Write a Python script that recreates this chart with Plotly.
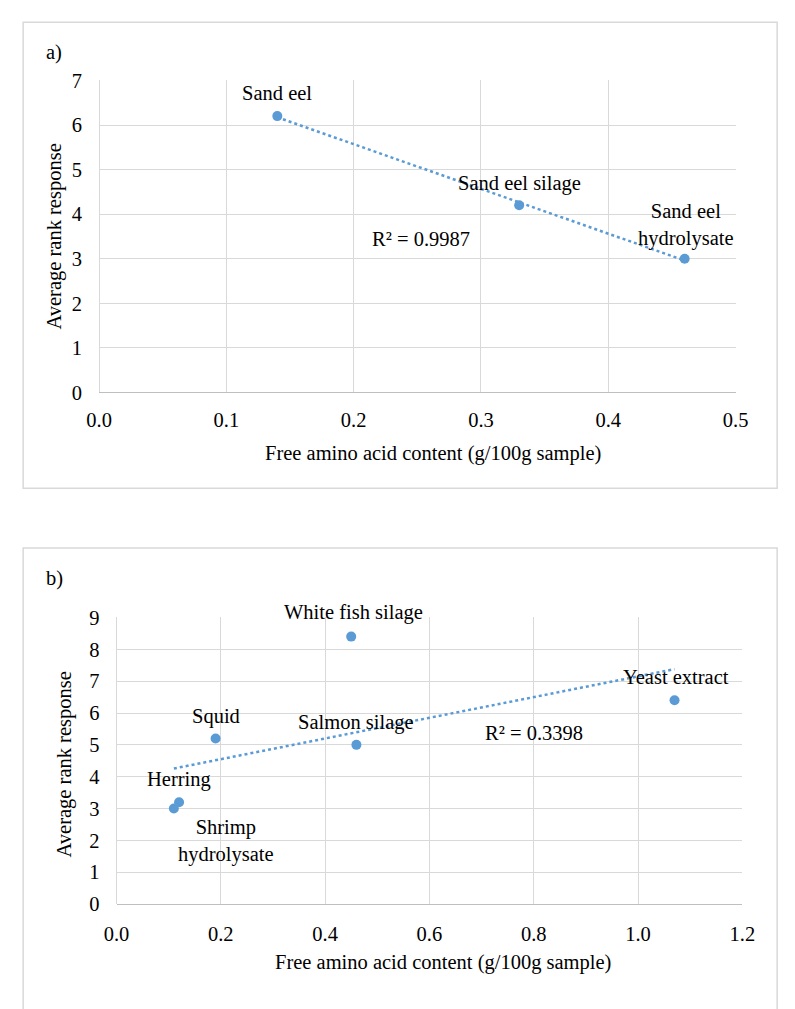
import numpy as np
import plotly.graph_objects as go

# ---- data: panel a ----
a_names = ["Sand eel", "Sand eel silage", "Sand eel<br>hydrolysate"]
a_x = [0.14, 0.33, 0.46]
a_y = [6.2, 4.2, 3.0]
a_r2 = "R² = 0.9987"
a_xticks = [0.0, 0.1, 0.2, 0.3, 0.4, 0.5]
a_yticks = [0, 1, 2, 3, 4, 5, 6, 7]

# ---- data: panel b ----
b_names = ["White fish silage", "Squid", "Salmon silage", "Yeast extract", "Herring", "Shrimp<br>hydrolysate"]
b_x = [0.45, 0.19, 0.46, 1.07, 0.12, 0.11]
b_y = [8.4, 5.2, 5.0, 6.4, 3.2, 3.0]
b_r2 = "R² = 0.3398"
b_xticks = [0.0, 0.2, 0.4, 0.6, 0.8, 1.0, 1.2]
b_yticks = [0, 1, 2, 3, 4, 5, 6, 7, 8, 9]

x_title = "Free amino acid content (g/100g sample)"
y_title = "Average rank response"

# label offsets (pixels) – styling
a_shift = [(0, 23), (0, 22), (1, 34)]
b_shift = [(2, 24), (0, 22), (0, 22), (1, 23), (0, 23), (52, -32)]

W, H = 795, 1009
FONT = "Liberation Serif, Times New Roman, serif"
BLUE = "#5b9bd5"
GRID = "#d9d9d9"
FS = 20.5


def px(x):
    return x / W


def py(y):
    return 1 - y / H


def trend(xs, ys):
    k, b = np.polyfit(xs, ys, 1)
    xx = np.array([min(xs), max(xs)])
    return xx, k * xx + b


fig = go.Figure()

ta_x, ta_y = trend(a_x, a_y)
tb_x, tb_y = trend(b_x, b_y)

fig.add_trace(go.Scatter(x=ta_x, y=ta_y, mode="lines", xaxis="x", yaxis="y",
                         line=dict(color=BLUE, width=2.5, dash="dot"), showlegend=False))
fig.add_trace(go.Scatter(x=a_x, y=a_y, mode="markers", xaxis="x", yaxis="y",
                         marker=dict(color=BLUE, size=10), showlegend=False))
fig.add_trace(go.Scatter(x=tb_x, y=tb_y, mode="lines", xaxis="x2", yaxis="y2",
                         line=dict(color=BLUE, width=2.5, dash="dot"), showlegend=False))
fig.add_trace(go.Scatter(x=b_x, y=b_y, mode="markers", xaxis="x2", yaxis="y2",
                         marker=dict(color=BLUE, size=10), showlegend=False))

annotations = []
for n, x, y, (dx, dy) in zip(a_names, a_x, a_y, a_shift):
    annotations.append(dict(x=x, y=y, xref="x", yref="y", text=n, showarrow=False,
                            xshift=dx, yshift=dy, font=dict(size=FS, color="#000", family=FONT)))
for n, x, y, (dx, dy) in zip(b_names, b_x, b_y, b_shift):
    annotations.append(dict(x=x, y=y, xref="x2", yref="y2", text=n, showarrow=False,
                            xshift=dx, yshift=dy, font=dict(size=FS, color="#000", family=FONT)))

def paper_text(text, x, y, angle=0, size=FS):
    annotations.append(dict(x=px(x), y=py(y), xref="paper", yref="paper", text=text,
                            showarrow=False, textangle=angle, xanchor="center", yanchor="middle",
                            font=dict(size=size, color="#000", family=FONT)))

paper_text(a_r2, 422, 233)
paper_text(b_r2, 539, 738)
paper_text("a)", 42, 42)
paper_text("b)", 43, 580)
paper_text(x_title, 434, 452)
paper_text(x_title, 445, 973)
paper_text(y_title, 43, 231, angle=-90)
paper_text(y_title, 53, 770, angle=-90)

axis_common = dict(showgrid=True, gridcolor=GRID, gridwidth=1, zeroline=True, zerolinecolor=GRID,
                   zerolinewidth=1, tickfont=dict(size=FS, color="#000", family=FONT),
                   ticks="", fixedrange=True)

fig.update_layout(
    width=W, height=H, margin=dict(l=0, r=0, t=0, b=0),
    paper_bgcolor="white", plot_bgcolor="white",
    xaxis=dict(domain=[px(89), px(747)], range=[0, 0.5], tickvals=a_xticks,
               ticktext=[f"{v:.1f}" for v in a_xticks], anchor="y",
               showline=True, linecolor="#bfbfbf", linewidth=1, ticklabelstandoff=9, **axis_common),
    yaxis=dict(domain=[py(390), py(71)], range=[0, 7], tickvals=a_yticks, anchor="x",
               ticklabelstandoff=16, **axis_common),
    xaxis2=dict(domain=[px(107), px(754)], range=[0, 1.2], tickvals=b_xticks,
                ticktext=[f"{v:.1f}" for v in b_xticks], anchor="y2",
                showline=True, linecolor="#bfbfbf", linewidth=1, ticklabelstandoff=11, **axis_common),
    yaxis2=dict(domain=[py(913), py(620)], range=[0, 9], tickvals=b_yticks, anchor="x2",
                ticklabelstandoff=16, **axis_common),
    annotations=annotations,
    shapes=[
        dict(type="rect", xref="paper", yref="paper", x0=px(10.5), x1=px(790), y0=py(488), y1=py(11.5),
             line=dict(color=GRID, width=1.5), layer="below"),
        dict(type="rect", xref="paper", yref="paper", x0=px(10.5), x1=px(790), y0=py(1030), y1=py(549),
             line=dict(color=GRID, width=1.5), layer="below"),
    ],
)

fig.write_html(
    "out.html",
    config={"displayModeBar": False, "staticPlot": False},
    post_script="document.body.style.margin='0';document.body.style.padding='0';"
                "document.documentElement.style.overflow='hidden';",
)
